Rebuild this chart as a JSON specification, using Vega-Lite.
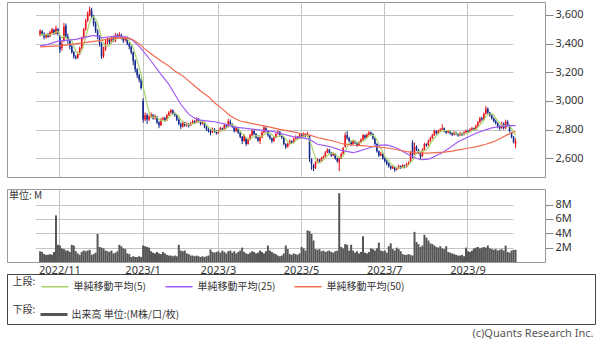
{
"$schema":"https://vega.github.io/schema/vega-lite/v6.json",
"padding":{"left":6,"top":1,"right":0,"bottom":0},
"background":"white",
"title":{"text":"(c)Quants Research Inc.","orient":"bottom","anchor":"end","fontSize":11,"fontWeight":"normal","color":"#555","font":"Noto Sans","offset":3,"dx":-2},
"datasets":{
"px":[
{"d":"2022-10-18","o":3460,"h":3500,"l":3450,"c":3490,"v":1.5,"m":3460},
{"d":"2022-10-19","o":3485,"h":3495,"l":3455,"c":3470,"v":1.4,"m":3465},
{"d":"2022-10-20","o":3470,"h":3480,"l":3430,"c":3445,"v":1.1,"m":3460},
{"d":"2022-10-21","o":3445,"h":3470,"l":3435,"c":3460,"v":1.0,"m":3463},
{"d":"2022-10-24","o":3460,"h":3475,"l":3440,"c":3450,"v":1.0,"m":3463},
{"d":"2022-10-25","o":3450,"h":3490,"l":3445,"c":3480,"v":1.1,"m":3461},
{"d":"2022-10-26","o":3475,"h":3510,"l":3465,"c":3500,"v":1.0,"m":3467},
{"d":"2022-10-27","o":3495,"h":3505,"l":3460,"c":3470,"v":1.4,"m":3472},
{"d":"2022-10-28","o":3470,"h":3525,"l":3465,"c":3505,"v":6.5,"m":3481},
{"d":"2022-10-31","o":3500,"h":3510,"l":3455,"c":3470,"v":2.4,"m":3485},
{"d":"2022-11-01","o":3450,"h":3460,"l":3335,"c":3360,"v":2.3,"m":3461},
{"d":"2022-11-02","o":3370,"h":3420,"l":3350,"c":3400,"v":1.9,"m":3441},
{"d":"2022-11-04","o":3420,"h":3545,"l":3410,"c":3520,"v":1.8,"m":3451},
{"d":"2022-11-07","o":3525,"h":3540,"l":3440,"c":3450,"v":1.6,"m":3440},
{"d":"2022-11-08","o":3450,"h":3470,"l":3400,"c":3420,"v":1.6,"m":3430},
{"d":"2022-11-09","o":3420,"h":3430,"l":3360,"c":3380,"v":1.4,"m":3434},
{"d":"2022-11-10","o":3380,"h":3390,"l":3330,"c":3340,"v":2.4,"m":3422},
{"d":"2022-11-11","o":3340,"h":3350,"l":3295,"c":3310,"v":2.3,"m":3380},
{"d":"2022-11-14","o":3310,"h":3320,"l":3290,"c":3300,"v":1.5,"m":3350},
{"d":"2022-11-15","o":3300,"h":3345,"l":3295,"c":3330,"v":1.2,"m":3332},
{"d":"2022-11-16","o":3330,"h":3380,"l":3320,"c":3370,"v":1.0,"m":3330},
{"d":"2022-11-17","o":3370,"h":3450,"l":3360,"c":3440,"v":1.4,"m":3350},
{"d":"2022-11-18","o":3440,"h":3510,"l":3430,"c":3500,"v":1.6,"m":3388},
{"d":"2022-11-21","o":3500,"h":3575,"l":3490,"c":3560,"v":1.5,"m":3440},
{"d":"2022-11-22","o":3560,"h":3625,"l":3550,"c":3610,"v":1.6,"m":3496},
{"d":"2022-11-24","o":3600,"h":3657,"l":3590,"c":3640,"v":1.7,"m":3550},
{"d":"2022-11-25","o":3630,"h":3650,"l":3575,"c":3590,"v":1.0,"m":3580},
{"d":"2022-11-28","o":3590,"h":3600,"l":3520,"c":3540,"v":1.1,"m":3588},
{"d":"2022-11-29","o":3540,"h":3555,"l":3475,"c":3490,"v":1.3,"m":3574},
{"d":"2022-11-30","o":3490,"h":3500,"l":3430,"c":3450,"v":3.9,"m":3542},
{"d":"2022-12-01","o":3450,"h":3460,"l":3380,"c":3400,"v":2.1,"m":3494},
{"d":"2022-12-02","o":3400,"h":3410,"l":3293,"c":3310,"v":2.0,"m":3438},
{"d":"2022-12-05","o":3310,"h":3380,"l":3300,"c":3360,"v":1.9,"m":3402},
{"d":"2022-12-06","o":3360,"h":3430,"l":3350,"c":3410,"v":1.6,"m":3386},
{"d":"2022-12-07","o":3410,"h":3445,"l":3395,"c":3430,"v":1.5,"m":3382},
{"d":"2022-12-08","o":3430,"h":3440,"l":3395,"c":3410,"v":1.4,"m":3384},
{"d":"2022-12-09","o":3410,"h":3450,"l":3400,"c":3440,"v":1.6,"m":3410},
{"d":"2022-12-12","o":3440,"h":3455,"l":3410,"c":3420,"v":1.2,"m":3422},
{"d":"2022-12-13","o":3420,"h":3475,"l":3410,"c":3460,"v":1.3,"m":3432},
{"d":"2022-12-14","o":3460,"h":3470,"l":3435,"c":3450,"v":1.5,"m":3436},
{"d":"2022-12-15","o":3450,"h":3480,"l":3440,"c":3465,"v":2.4,"m":3447},
{"d":"2022-12-16","o":3460,"h":3470,"l":3430,"c":3440,"v":2.2,"m":3447},
{"d":"2022-12-19","o":3440,"h":3450,"l":3405,"c":3420,"v":1.9,"m":3447},
{"d":"2022-12-20","o":3425,"h":3455,"l":3415,"c":3445,"v":1.8,"m":3444},
{"d":"2022-12-21","o":3440,"h":3450,"l":3390,"c":3400,"v":1.2,"m":3434},
{"d":"2022-12-22","o":3400,"h":3410,"l":3360,"c":3380,"v":1.1,"m":3417},
{"d":"2022-12-23","o":3380,"h":3390,"l":3325,"c":3340,"v":0.7,"m":3397},
{"d":"2022-12-26","o":3340,"h":3345,"l":3250,"c":3280,"v":0.8,"m":3369},
{"d":"2022-12-27","o":3280,"h":3290,"l":3200,"c":3220,"v":0.7,"m":3324},
{"d":"2022-12-28","o":3220,"h":3230,"l":3160,"c":3180,"v":0.7,"m":3280},
{"d":"2022-12-29","o":3180,"h":3190,"l":3130,"c":3150,"v":0.8,"m":3234},
{"d":"2022-12-30","o":3150,"h":3160,"l":3080,"c":3090,"v":0.7,"m":3184},
{"d":"2023-01-04","o":3000,"h":3020,"l":2850,"c":2870,"v":2.3,"m":3102},
{"d":"2023-01-05","o":2870,"h":2920,"l":2860,"c":2900,"v":2.2,"m":3038},
{"d":"2023-01-06","o":2900,"h":2915,"l":2840,"c":2870,"v":2.1,"m":2976},
{"d":"2023-01-10","o":2870,"h":2905,"l":2860,"c":2890,"v":2.0,"m":2924},
{"d":"2023-01-11","o":2890,"h":2920,"l":2880,"c":2905,"v":1.5,"m":2887},
{"d":"2023-01-12","o":2900,"h":2910,"l":2870,"c":2880,"v":1.3,"m":2889},
{"d":"2023-01-13","o":2880,"h":2905,"l":2870,"c":2895,"v":1.2,"m":2888},
{"d":"2023-01-16","o":2890,"h":2895,"l":2840,"c":2850,"v":1.4,"m":2884},
{"d":"2023-01-17","o":2850,"h":2860,"l":2810,"c":2830,"v":1.2,"m":2872},
{"d":"2023-01-18","o":2830,"h":2880,"l":2825,"c":2870,"v":1.1,"m":2865},
{"d":"2023-01-19","o":2870,"h":2890,"l":2860,"c":2880,"v":1.4,"m":2865},
{"d":"2023-01-20","o":2880,"h":2890,"l":2855,"c":2865,"v":1.2,"m":2859},
{"d":"2023-01-23","o":2865,"h":2910,"l":2860,"c":2900,"v":1.0,"m":2869},
{"d":"2023-01-24","o":2900,"h":2930,"l":2895,"c":2920,"v":0.9,"m":2887},
{"d":"2023-01-25","o":2920,"h":2945,"l":2910,"c":2935,"v":0.9,"m":2900},
{"d":"2023-01-26","o":2935,"h":2940,"l":2905,"c":2915,"v":0.8,"m":2907},
{"d":"2023-01-27","o":2915,"h":2920,"l":2890,"c":2900,"v":0.9,"m":2914},
{"d":"2023-01-30","o":2900,"h":2905,"l":2860,"c":2870,"v":0.8,"m":2908},
{"d":"2023-01-31","o":2870,"h":2880,"l":2830,"c":2840,"v":2.4,"m":2892},
{"d":"2023-02-01","o":2840,"h":2850,"l":2805,"c":2820,"v":1.6,"m":2869},
{"d":"2023-02-02","o":2820,"h":2860,"l":2815,"c":2850,"v":1.5,"m":2856},
{"d":"2023-02-03","o":2850,"h":2855,"l":2820,"c":2830,"v":1.6,"m":2842},
{"d":"2023-02-06","o":2830,"h":2850,"l":2820,"c":2840,"v":1.2,"m":2836},
{"d":"2023-02-07","o":2840,"h":2845,"l":2815,"c":2825,"v":1.1,"m":2833},
{"d":"2023-02-08","o":2830,"h":2855,"l":2825,"c":2845,"v":0.9,"m":2838},
{"d":"2023-02-09","o":2845,"h":2870,"l":2840,"c":2860,"v":0.9,"m":2840},
{"d":"2023-02-10","o":2860,"h":2865,"l":2840,"c":2850,"v":0.8,"m":2844},
{"d":"2023-02-13","o":2850,"h":2885,"l":2845,"c":2875,"v":0.9,"m":2851},
{"d":"2023-02-14","o":2875,"h":2880,"l":2850,"c":2860,"v":0.8,"m":2858},
{"d":"2023-02-15","o":2860,"h":2865,"l":2830,"c":2840,"v":0.7,"m":2857},
{"d":"2023-02-16","o":2840,"h":2860,"l":2835,"c":2850,"v":0.8,"m":2855},
{"d":"2023-02-17","o":2850,"h":2855,"l":2810,"c":2820,"v":0.7,"m":2849},
{"d":"2023-02-20","o":2820,"h":2825,"l":2790,"c":2800,"v":0.8,"m":2834},
{"d":"2023-02-21","o":2800,"h":2810,"l":2780,"c":2790,"v":0.9,"m":2820},
{"d":"2023-02-22","o":2790,"h":2800,"l":2760,"c":2780,"v":1.75,"m":2808},
{"d":"2023-02-24","o":2780,"h":2815,"l":2775,"c":2800,"v":1.4,"m":2798},
{"d":"2023-02-27","o":2800,"h":2810,"l":2780,"c":2790,"v":1.3,"m":2792},
{"d":"2023-02-28","o":2790,"h":2795,"l":2765,"c":2775,"v":1.4,"m":2787},
{"d":"2023-03-01","o":2775,"h":2800,"l":2770,"c":2790,"v":1.5,"m":2787},
{"d":"2023-03-02","o":2790,"h":2820,"l":2785,"c":2810,"v":1.3,"m":2793},
{"d":"2023-03-03","o":2810,"h":2815,"l":2790,"c":2800,"v":1.6,"m":2793},
{"d":"2023-03-06","o":2800,"h":2840,"l":2795,"c":2830,"v":1.4,"m":2801},
{"d":"2023-03-07","o":2830,"h":2835,"l":2810,"c":2820,"v":1.2,"m":2810},
{"d":"2023-03-08","o":2820,"h":2875,"l":2815,"c":2860,"v":1.5,"m":2824},
{"d":"2023-03-09","o":2855,"h":2870,"l":2830,"c":2840,"v":1.6,"m":2830},
{"d":"2023-03-10","o":2840,"h":2845,"l":2810,"c":2820,"v":1.3,"m":2834},
{"d":"2023-03-13","o":2820,"h":2825,"l":2780,"c":2790,"v":1.5,"m":2826},
{"d":"2023-03-14","o":2790,"h":2820,"l":2785,"c":2810,"v":1.2,"m":2824},
{"d":"2023-03-15","o":2810,"h":2815,"l":2770,"c":2780,"v":1.4,"m":2808},
{"d":"2023-03-16","o":2780,"h":2785,"l":2740,"c":2750,"v":1.6,"m":2790},
{"d":"2023-03-17","o":2750,"h":2755,"l":2700,"c":2720,"v":2.0,"m":2770},
{"d":"2023-03-20","o":2720,"h":2770,"l":2715,"c":2760,"v":1.4,"m":2764},
{"d":"2023-03-22","o":2740,"h":2745,"l":2685,"c":2700,"v":1.2,"m":2742},
{"d":"2023-03-23","o":2700,"h":2740,"l":2695,"c":2730,"v":1.1,"m":2732},
{"d":"2023-03-24","o":2730,"h":2770,"l":2725,"c":2760,"v":1.3,"m":2734},
{"d":"2023-03-27","o":2760,"h":2805,"l":2755,"c":2790,"v":1.5,"m":2748},
{"d":"2023-03-28","o":2790,"h":2795,"l":2760,"c":2770,"v":1.4,"m":2750},
{"d":"2023-03-29","o":2770,"h":2775,"l":2735,"c":2745,"v":1.2,"m":2759},
{"d":"2023-03-30","o":2745,"h":2750,"l":2715,"c":2725,"v":1.3,"m":2758},
{"d":"2023-03-31","o":2720,"h":2755,"l":2700,"c":2745,"v":1.6,"m":2755},
{"d":"2023-04-03","o":2745,"h":2790,"l":2740,"c":2780,"v":1.4,"m":2753},
{"d":"2023-04-04","o":2780,"h":2830,"l":2775,"c":2815,"v":1.2,"m":2762},
{"d":"2023-04-05","o":2810,"h":2820,"l":2780,"c":2790,"v":1.5,"m":2771},
{"d":"2023-04-06","o":2790,"h":2795,"l":2750,"c":2760,"v":2.3,"m":2778},
{"d":"2023-04-07","o":2760,"h":2765,"l":2730,"c":2740,"v":1.6,"m":2777},
{"d":"2023-04-10","o":2740,"h":2745,"l":2705,"c":2720,"v":1.4,"m":2765},
{"d":"2023-04-11","o":2720,"h":2755,"l":2715,"c":2745,"v":1.2,"m":2751},
{"d":"2023-04-12","o":2745,"h":2780,"l":2740,"c":2770,"v":1.1,"m":2747},
{"d":"2023-04-13","o":2770,"h":2795,"l":2765,"c":2785,"v":0.9,"m":2752},
{"d":"2023-04-14","o":2785,"h":2790,"l":2750,"c":2760,"v":0.8,"m":2756},
{"d":"2023-04-17","o":2760,"h":2765,"l":2735,"c":2745,"v":0.9,"m":2761},
{"d":"2023-04-18","o":2745,"h":2750,"l":2690,"c":2700,"v":1.2,"m":2752},
{"d":"2023-04-19","o":2700,"h":2705,"l":2665,"c":2680,"v":2.3,"m":2734},
{"d":"2023-04-20","o":2680,"h":2710,"l":2675,"c":2700,"v":1.8,"m":2717},
{"d":"2023-04-21","o":2700,"h":2730,"l":2695,"c":2720,"v":1.1,"m":2709},
{"d":"2023-04-24","o":2720,"h":2725,"l":2700,"c":2710,"v":1.0,"m":2702},
{"d":"2023-04-25","o":2710,"h":2745,"l":2705,"c":2735,"v":1.2,"m":2709},
{"d":"2023-04-26","o":2735,"h":2760,"l":2730,"c":2750,"v":1.1,"m":2723},
{"d":"2023-04-27","o":2750,"h":2755,"l":2730,"c":2740,"v":1.0,"m":2731},
{"d":"2023-04-28","o":2740,"h":2775,"l":2735,"c":2765,"v":1.2,"m":2740},
{"d":"2023-05-01","o":2765,"h":2770,"l":2740,"c":2750,"v":2.1,"m":2748},
{"d":"2023-05-02","o":2750,"h":2780,"l":2745,"c":2770,"v":1.9,"m":2755},
{"d":"2023-05-08","o":2770,"h":2775,"l":2745,"c":2755,"v":1.6,"m":2756},
{"d":"2023-05-09","o":2755,"h":2785,"l":2750,"c":2770,"v":4.4,"m":2762},
{"d":"2023-05-10","o":2755,"h":2760,"l":2575,"c":2600,"v":4.3,"m":2729},
{"d":"2023-05-11","o":2595,"h":2600,"l":2520,"c":2560,"v":3.9,"m":2691},
{"d":"2023-05-12","o":2550,"h":2560,"l":2510,"c":2530,"v":3.0,"m":2643},
{"d":"2023-05-15","o":2530,"h":2580,"l":2525,"c":2570,"v":1.8,"m":2606},
{"d":"2023-05-16","o":2570,"h":2600,"l":2565,"c":2590,"v":1.7,"m":2570},
{"d":"2023-05-17","o":2590,"h":2595,"l":2570,"c":2580,"v":1.8,"m":2566},
{"d":"2023-05-18","o":2580,"h":2610,"l":2575,"c":2600,"v":1.5,"m":2574},
{"d":"2023-05-19","o":2600,"h":2620,"l":2595,"c":2610,"v":1.6,"m":2590},
{"d":"2023-05-22","o":2610,"h":2650,"l":2605,"c":2640,"v":1.4,"m":2604},
{"d":"2023-05-23","o":2640,"h":2670,"l":2635,"c":2660,"v":1.5,"m":2618},
{"d":"2023-05-24","o":2660,"h":2665,"l":2630,"c":2640,"v":1.6,"m":2630},
{"d":"2023-05-25","o":2640,"h":2645,"l":2610,"c":2620,"v":1.4,"m":2634},
{"d":"2023-05-26","o":2620,"h":2640,"l":2615,"c":2630,"v":1.3,"m":2638},
{"d":"2023-05-29","o":2630,"h":2635,"l":2590,"c":2600,"v":1.5,"m":2630},
{"d":"2023-05-30","o":2600,"h":2605,"l":2570,"c":2580,"v":1.6,"m":2614},
{"d":"2023-05-31","o":2570,"h":2610,"l":2510,"c":2600,"v":9.6,"m":2606},
{"d":"2023-06-01","o":2600,"h":2640,"l":2595,"c":2630,"v":2.1,"m":2608},
{"d":"2023-06-02","o":2630,"h":2680,"l":2625,"c":2670,"v":1.9,"m":2616},
{"d":"2023-06-05","o":2680,"h":2780,"l":2675,"c":2760,"v":2.5,"m":2648},
{"d":"2023-06-06","o":2760,"h":2790,"l":2730,"c":2740,"v":2.4,"m":2680},
{"d":"2023-06-07","o":2740,"h":2750,"l":2710,"c":2720,"v":1.6,"m":2704},
{"d":"2023-06-08","o":2720,"h":2725,"l":2685,"c":2700,"v":2.4,"m":2718},
{"d":"2023-06-09","o":2700,"h":2730,"l":2695,"c":2720,"v":1.6,"m":2728},
{"d":"2023-06-12","o":2720,"h":2725,"l":2700,"c":2710,"v":1.3,"m":2718},
{"d":"2023-06-13","o":2710,"h":2715,"l":2680,"c":2690,"v":1.5,"m":2708},
{"d":"2023-06-14","o":2690,"h":2720,"l":2685,"c":2710,"v":1.2,"m":2706},
{"d":"2023-06-15","o":2710,"h":2740,"l":2705,"c":2730,"v":1.4,"m":2712},
{"d":"2023-06-16","o":2730,"h":2770,"l":2725,"c":2760,"v":3.6,"m":2720},
{"d":"2023-06-19","o":2760,"h":2765,"l":2735,"c":2745,"v":1.3,"m":2727},
{"d":"2023-06-20","o":2745,"h":2775,"l":2740,"c":2765,"v":1.2,"m":2742},
{"d":"2023-06-21","o":2765,"h":2790,"l":2760,"c":2780,"v":1.4,"m":2756},
{"d":"2023-06-22","o":2780,"h":2785,"l":2760,"c":2770,"v":1.9,"m":2764},
{"d":"2023-06-23","o":2770,"h":2775,"l":2730,"c":2740,"v":1.8,"m":2760},
{"d":"2023-06-26","o":2740,"h":2745,"l":2690,"c":2700,"v":1.6,"m":2751},
{"d":"2023-06-27","o":2700,"h":2705,"l":2640,"c":2650,"v":1.9,"m":2728},
{"d":"2023-06-28","o":2650,"h":2655,"l":2610,"c":2620,"v":2.7,"m":2696},
{"d":"2023-06-29","o":2620,"h":2645,"l":2615,"c":2630,"v":1.6,"m":2668},
{"d":"2023-06-30","o":2630,"h":2635,"l":2590,"c":2600,"v":1.5,"m":2640},
{"d":"2023-07-03","o":2600,"h":2605,"l":2570,"c":2580,"v":1.6,"m":2616},
{"d":"2023-07-04","o":2580,"h":2590,"l":2550,"c":2560,"v":1.3,"m":2598},
{"d":"2023-07-05","o":2565,"h":2570,"l":2535,"c":2545,"v":2.2,"m":2583},
{"d":"2023-07-06","o":2545,"h":2550,"l":2520,"c":2530,"v":2.6,"m":2563},
{"d":"2023-07-07","o":2530,"h":2550,"l":2525,"c":2540,"v":1.8,"m":2551},
{"d":"2023-07-10","o":2540,"h":2545,"l":2505,"c":2520,"v":1.6,"m":2539},
{"d":"2023-07-11","o":2520,"h":2540,"l":2515,"c":2530,"v":2.0,"m":2533},
{"d":"2023-07-12","o":2530,"h":2555,"l":2525,"c":2545,"v":1.8,"m":2533},
{"d":"2023-07-13","o":2545,"h":2550,"l":2525,"c":2535,"v":1.5,"m":2534},
{"d":"2023-07-14","o":2535,"h":2560,"l":2530,"c":2550,"v":1.1,"m":2536},
{"d":"2023-07-18","o":2550,"h":2555,"l":2530,"c":2540,"v":1.0,"m":2540},
{"d":"2023-07-19","o":2540,"h":2570,"l":2535,"c":2560,"v":1.0,"m":2546},
{"d":"2023-07-20","o":2560,"h":2580,"l":2555,"c":2570,"v":1.1,"m":2551},
{"d":"2023-07-21","o":2575,"h":2650,"l":2570,"c":2640,"v":1.0,"m":2572},
{"d":"2023-07-24","o":2710,"h":2725,"l":2600,"c":2620,"v":0.9,"m":2586},
{"d":"2023-07-25","o":2630,"h":2710,"l":2625,"c":2680,"v":4.2,"m":2614},
{"d":"2023-07-26","o":2680,"h":2690,"l":2650,"c":2660,"v":2.8,"m":2634},
{"d":"2023-07-27","o":2660,"h":2665,"l":2630,"c":2640,"v":2.5,"m":2648},
{"d":"2023-07-28","o":2640,"h":2645,"l":2595,"c":2610,"v":2.1,"m":2642},
{"d":"2023-07-31","o":2615,"h":2670,"l":2610,"c":2660,"v":2.3,"m":2650},
{"d":"2023-08-01","o":2660,"h":2710,"l":2655,"c":2700,"v":3.8,"m":2654},
{"d":"2023-08-02","o":2700,"h":2705,"l":2680,"c":2690,"v":3.4,"m":2660},
{"d":"2023-08-03","o":2690,"h":2730,"l":2685,"c":2720,"v":3.0,"m":2676},
{"d":"2023-08-04","o":2720,"h":2750,"l":2715,"c":2740,"v":2.6,"m":2702},
{"d":"2023-08-07","o":2740,"h":2770,"l":2735,"c":2760,"v":2.5,"m":2722},
{"d":"2023-08-08","o":2760,"h":2800,"l":2755,"c":2790,"v":2.3,"m":2740},
{"d":"2023-08-09","o":2790,"h":2795,"l":2765,"c":2775,"v":2.1,"m":2757},
{"d":"2023-08-10","o":2775,"h":2800,"l":2770,"c":2790,"v":2.0,"m":2771},
{"d":"2023-08-14","o":2790,"h":2810,"l":2785,"c":2800,"v":2.2,"m":2783},
{"d":"2023-08-15","o":2800,"h":2838,"l":2795,"c":2810,"v":1.9,"m":2793},
{"d":"2023-08-16","o":2810,"h":2815,"l":2780,"c":2790,"v":1.8,"m":2793},
{"d":"2023-08-17","o":2790,"h":2795,"l":2770,"c":2780,"v":2.2,"m":2794},
{"d":"2023-08-18","o":2780,"h":2800,"l":2775,"c":2790,"v":1.4,"m":2794},
{"d":"2023-08-21","o":2790,"h":2795,"l":2765,"c":2775,"v":1.3,"m":2789},
{"d":"2023-08-22","o":2775,"h":2780,"l":2755,"c":2765,"v":1.2,"m":2780},
{"d":"2023-08-23","o":2765,"h":2790,"l":2760,"c":2780,"v":1.1,"m":2778},
{"d":"2023-08-24","o":2780,"h":2785,"l":2760,"c":2770,"v":1.0,"m":2776},
{"d":"2023-08-25","o":2770,"h":2775,"l":2750,"c":2760,"v":0.9,"m":2770},
{"d":"2023-08-28","o":2760,"h":2785,"l":2755,"c":2775,"v":0.9,"m":2770},
{"d":"2023-08-29","o":2775,"h":2780,"l":2755,"c":2765,"v":1.0,"m":2770},
{"d":"2023-08-30","o":2765,"h":2790,"l":2760,"c":2780,"v":0.8,"m":2770},
{"d":"2023-08-31","o":2780,"h":2800,"l":2775,"c":2790,"v":2.0,"m":2774},
{"d":"2023-09-01","o":2790,"h":2800,"l":2775,"c":2785,"v":1.5,"m":2779},
{"d":"2023-09-04","o":2785,"h":2810,"l":2780,"c":2800,"v":1.4,"m":2784},
{"d":"2023-09-05","o":2800,"h":2820,"l":2795,"c":2810,"v":1.6,"m":2793},
{"d":"2023-09-06","o":2810,"h":2815,"l":2790,"c":2800,"v":1.9,"m":2797},
{"d":"2023-09-07","o":2800,"h":2835,"l":2795,"c":2825,"v":2.0,"m":2804},
{"d":"2023-09-08","o":2825,"h":2860,"l":2820,"c":2850,"v":2.1,"m":2817},
{"d":"2023-09-11","o":2850,"h":2890,"l":2845,"c":2880,"v":1.9,"m":2833},
{"d":"2023-09-12","o":2880,"h":2890,"l":2860,"c":2870,"v":2.0,"m":2845},
{"d":"2023-09-13","o":2870,"h":2920,"l":2865,"c":2910,"v":2.1,"m":2867},
{"d":"2023-09-14","o":2910,"h":2965,"l":2905,"c":2945,"v":2.0,"m":2891},
{"d":"2023-09-15","o":2945,"h":2955,"l":2910,"c":2920,"v":2.3,"m":2905},
{"d":"2023-09-19","o":2920,"h":2925,"l":2890,"c":2900,"v":1.9,"m":2909},
{"d":"2023-09-20","o":2900,"h":2905,"l":2870,"c":2880,"v":1.8,"m":2911},
{"d":"2023-09-21","o":2880,"h":2885,"l":2850,"c":2860,"v":1.7,"m":2901},
{"d":"2023-09-22","o":2860,"h":2870,"l":2835,"c":2845,"v":1.8,"m":2881},
{"d":"2023-09-25","o":2845,"h":2850,"l":2810,"c":2820,"v":1.6,"m":2861},
{"d":"2023-09-26","o":2820,"h":2830,"l":2795,"c":2810,"v":1.7,"m":2843},
{"d":"2023-09-27","o":2810,"h":2855,"l":2805,"c":2840,"v":1.8,"m":2835},
{"d":"2023-09-28","o":2840,"h":2850,"l":2800,"c":2810,"v":1.6,"m":2825},
{"d":"2023-09-29","o":2810,"h":2870,"l":2805,"c":2855,"v":2.3,"m":2827},
{"d":"2023-10-02","o":2855,"h":2865,"l":2820,"c":2830,"v":1.4,"m":2829},
{"d":"2023-10-03","o":2830,"h":2835,"l":2780,"c":2790,"v":1.3,"m":2825},
{"d":"2023-10-04","o":2780,"h":2785,"l":2740,"c":2750,"v":1.6,"m":2807},
{"d":"2023-10-05","o":2750,"h":2755,"l":2705,"c":2715,"v":1.7,"m":2788},
{"d":"2023-10-06","o":2700,"h":2740,"l":2670,"c":2720,"v":1.7,"m":2761}
],
"ma":[
{"d":"2022-10-18","s":"25","p":3384},{"d":"2022-10-24","s":"25","p":3395},{"d":"2022-10-31","s":"25","p":3418},{"d":"2022-11-08","s":"25","p":3425},{"d":"2022-11-14","s":"25","p":3430},{"d":"2022-11-21","s":"25","p":3445},{"d":"2022-11-28","s":"25","p":3458},{"d":"2022-12-02","s":"25","p":3441},{"d":"2022-12-08","s":"25","p":3448},{"d":"2022-12-14","s":"25","p":3453},{"d":"2022-12-20","s":"25","p":3445},{"d":"2022-12-23","s":"25","p":3430},{"d":"2022-12-28","s":"25","p":3395},{"d":"2023-01-04","s":"25","p":3349},{"d":"2023-01-11","s":"25","p":3279},{"d":"2023-01-18","s":"25","p":3186},{"d":"2023-01-24","s":"25","p":3116},{"d":"2023-01-27","s":"25","p":3047},{"d":"2023-02-01","s":"25","p":2977},{"d":"2023-02-07","s":"25","p":2908},{"d":"2023-02-10","s":"25","p":2880},{"d":"2023-02-15","s":"25","p":2867},{"d":"2023-02-21","s":"25","p":2860},{"d":"2023-02-27","s":"25","p":2855},{"d":"2023-03-06","s":"25","p":2840},{"d":"2023-03-13","s":"25","p":2818},{"d":"2023-03-20","s":"25","p":2810},{"d":"2023-03-28","s":"25","p":2802},{"d":"2023-04-04","s":"25","p":2795},{"d":"2023-04-11","s":"25","p":2786},{"d":"2023-04-18","s":"25","p":2768},{"d":"2023-04-25","s":"25","p":2749},{"d":"2023-05-01","s":"25","p":2744},{"d":"2023-05-10","s":"25","p":2732},{"d":"2023-05-16","s":"25","p":2698},{"d":"2023-05-22","s":"25","p":2688},{"d":"2023-05-25","s":"25","p":2679},{"d":"2023-06-01","s":"25","p":2655},{"d":"2023-06-09","s":"25","p":2639},{"d":"2023-06-14","s":"25","p":2650},{"d":"2023-06-19","s":"25","p":2663},{"d":"2023-06-26","s":"25","p":2686},{"d":"2023-06-29","s":"25","p":2692},{"d":"2023-07-04","s":"25","p":2693},{"d":"2023-07-07","s":"25","p":2682},{"d":"2023-07-12","s":"25","p":2665},{"d":"2023-07-18","s":"25","p":2640},{"d":"2023-07-21","s":"25","p":2618},{"d":"2023-07-26","s":"25","p":2600},{"d":"2023-07-28","s":"25","p":2590},{"d":"2023-08-02","s":"25","p":2592},{"d":"2023-08-04","s":"25","p":2598},{"d":"2023-08-09","s":"25","p":2620},{"d":"2023-08-15","s":"25","p":2639},{"d":"2023-08-21","s":"25","p":2675},{"d":"2023-08-25","s":"25","p":2715},{"d":"2023-08-31","s":"25","p":2742},{"d":"2023-09-07","s":"25","p":2775},{"d":"2023-09-13","s":"25","p":2795},{"d":"2023-09-20","s":"25","p":2812},{"d":"2023-09-26","s":"25","p":2822},{"d":"2023-10-02","s":"25","p":2828},{"d":"2023-10-06","s":"25","p":2828},
{"d":"2022-10-18","s":"50","p":3377},{"d":"2022-11-01","s":"50","p":3385},{"d":"2022-11-18","s":"50","p":3407},{"d":"2022-12-02","s":"50","p":3423},{"d":"2022-12-09","s":"50","p":3438},{"d":"2022-12-16","s":"50","p":3441},{"d":"2022-12-22","s":"50","p":3438},{"d":"2022-12-26","s":"50","p":3425},{"d":"2022-12-29","s":"50","p":3400},{"d":"2023-01-04","s":"50","p":3372},{"d":"2023-01-11","s":"50","p":3330},{"d":"2023-01-18","s":"50","p":3279},{"d":"2023-01-24","s":"50","p":3245},{"d":"2023-01-27","s":"50","p":3209},{"d":"2023-02-02","s":"50","p":3175},{"d":"2023-02-07","s":"50","p":3140},{"d":"2023-02-10","s":"50","p":3105},{"d":"2023-02-15","s":"50","p":3070},{"d":"2023-02-21","s":"50","p":3030},{"d":"2023-02-27","s":"50","p":2988},{"d":"2023-03-03","s":"50","p":2945},{"d":"2023-03-08","s":"50","p":2908},{"d":"2023-03-13","s":"50","p":2880},{"d":"2023-03-16","s":"50","p":2860},{"d":"2023-03-24","s":"50","p":2845},{"d":"2023-03-31","s":"50","p":2832},{"d":"2023-04-07","s":"50","p":2818},{"d":"2023-04-14","s":"50","p":2802},{"d":"2023-04-21","s":"50","p":2790},{"d":"2023-04-28","s":"50","p":2775},{"d":"2023-05-09","s":"50","p":2767},{"d":"2023-05-16","s":"50","p":2745},{"d":"2023-05-22","s":"50","p":2732},{"d":"2023-05-26","s":"50","p":2721},{"d":"2023-06-02","s":"50","p":2700},{"d":"2023-06-09","s":"50","p":2692},{"d":"2023-06-16","s":"50","p":2688},{"d":"2023-06-21","s":"50","p":2684},{"d":"2023-06-28","s":"50","p":2678},{"d":"2023-07-05","s":"50","p":2670},{"d":"2023-07-12","s":"50","p":2658},{"d":"2023-07-19","s":"50","p":2646},{"d":"2023-07-27","s":"50","p":2637},{"d":"2023-08-03","s":"50","p":2636},{"d":"2023-08-09","s":"50","p":2639},{"d":"2023-08-16","s":"50","p":2643},{"d":"2023-08-22","s":"50","p":2650},{"d":"2023-08-28","s":"50","p":2660},{"d":"2023-09-01","s":"50","p":2670},{"d":"2023-09-08","s":"50","p":2683},{"d":"2023-09-14","s":"50","p":2698},{"d":"2023-09-21","s":"50","p":2716},{"d":"2023-09-26","s":"50","p":2736},{"d":"2023-10-02","s":"50","p":2765},{"d":"2023-10-06","s":"50","p":2790}
]
},
"vconcat":[
{"width":538,"height":175,
"data":{"name":"px"},
"encoding":{"x":{"field":"d","type":"ordinal","scale":{"paddingInner":0,"paddingOuter":0,"range":[32.13,509.53],"round":false},
"axis":{"values":["2022-11-01","2023-01-04","2023-03-01","2023-05-01","2023-07-03","2023-09-01"],"grid":true,"gridColor":"#c4c4c4","labels":false,"ticks":false,"domain":false,"title":null}}},
"layer":[
{"mark":{"type":"rule","strokeWidth":1},
"encoding":{"y":{"field":"l","type":"quantitative","scale":{"domain":[2469.5,3690.7],"nice":false,"zero":false},"axis":{"orient":"right","values":[2600,2800,3000,3200,3400,3600],"labelExpr":"format(datum.value, ',')","grid":true,"gridColor":"#c4c4c4","domain":false,"tickSize":8,"tickColor":"#888","labelFontSize":11,"labelColor":"#333","labelPadding":2,"title":null}},
"y2":{"field":"h"},
"color":{"condition":{"test":"datum.c >= datum.o","value":"#e8141c"},"value":"#13298c"}}},
{"mark":{"type":"bar","width":{"band":0.8}},
"encoding":{"y":{"field":"o","type":"quantitative","scale":{"domain":[2469.5,3690.7],"nice":false,"zero":false},"axis":{"orient":"right","values":[2600,2800,3000,3200,3400,3600],"labelExpr":"format(datum.value, ',')","grid":true,"gridColor":"#c4c4c4","domain":false,"tickSize":8,"tickColor":"#888","labelFontSize":11,"labelColor":"#333","labelPadding":2,"title":null}},
"y2":{"field":"c"},
"color":{"condition":{"test":"datum.c >= datum.o","value":"#e8141c"},"value":"#13298c"}}},
{"mark":{"type":"line","strokeWidth":1.2},
"encoding":{"y":{"field":"m","type":"quantitative","scale":{"domain":[2469.5,3690.7],"nice":false,"zero":false},"axis":{"orient":"right","values":[2600,2800,3000,3200,3400,3600],"labelExpr":"format(datum.value, ',')","grid":true,"gridColor":"#c4c4c4","domain":false,"tickSize":8,"tickColor":"#888","labelFontSize":11,"labelColor":"#333","labelPadding":2,"title":null}},
"stroke":{"datum":"5","type":"nominal","scale":{"domain":["5","25","50"],"range":["#a8d46a","#a05cf2","#f26a4f"]}}}},
{"data":{"name":"ma"},
"mark":{"type":"line","strokeWidth":1.2},
"encoding":{"y":{"field":"p","type":"quantitative","scale":{"domain":[2469.5,3690.7],"nice":false,"zero":false},"axis":{"orient":"right","values":[2600,2800,3000,3200,3400,3600],"labelExpr":"format(datum.value, ',')","grid":true,"gridColor":"#c4c4c4","domain":false,"tickSize":8,"tickColor":"#888","labelFontSize":11,"labelColor":"#333","labelPadding":2,"title":null}},
"stroke":{"field":"s","type":"nominal","scale":{"domain":["5","25","50"],"range":["#a8d46a","#a05cf2","#f26a4f"]},
"legend":{"title":"上段:","orient":"none","legendX":5.5,"legendY":270,"direction":"horizontal","titleOrient":"left","titleAnchor":"middle","titleBaseline":"middle","symbolType":"stroke","symbolSize":729,"symbolStrokeWidth":1.5,"labelExpr":"'単純移動平均(' + datum.label + ')'","labelFontSize":10,"labelFont":"Noto Sans CJK JP","labelColor":"#333","titleFont":"Noto Sans CJK JP","titleFontSize":10,"titleFontWeight":"normal","titleColor":"#333","columnPadding":16,"labelOffset":4,"titlePadding":5,"padding":0}}}}
]},
{"width":538,"height":73,
"data":{"name":"px"},
"title":{"text":"単位: M","anchor":"start","orient":"top","offset":-12,"dx":2,"fontSize":10,"fontWeight":"normal","font":"Noto Sans CJK JP","color":"#333"},
"mark":{"type":"bar","width":{"band":1}},
"encoding":{
"x":{"field":"d","type":"ordinal","scale":{"paddingInner":0,"paddingOuter":0,"range":[32.13,509.53],"round":false},
"axis":{"values":["2022-11-01","2023-01-04","2023-03-01","2023-05-01","2023-07-03","2023-09-01"],"grid":true,"gridColor":"#c4c4c4","ticks":false,"domain":false,"title":null,"labelAngle":0,"labelFontSize":11,"labelColor":"#333","labelPadding":2,"labelExpr":"slice(datum.value,0,4) + '/' + toNumber(slice(datum.value,5,7))"}},
"y":{"field":"v","type":"quantitative","scale":{"domain":[0,10.18],"nice":false},"axis":{"orient":"right","values":[2,4,6,8],"labelExpr":"datum.value + 'M'","grid":true,"gridColor":"#c4c4c4","domain":false,"tickSize":8,"tickColor":"#888","labelFontSize":11,"labelColor":"#333","labelPadding":2,"title":null}},
"fill":{"datum":"vol","type":"nominal","scale":{"domain":["vol"],"range":["#555555"]},
"legend":{"title":"下段:","orient":"none","legendX":5.5,"legendY":299,"direction":"horizontal","titleOrient":"left","titleAnchor":"middle","titleBaseline":"middle","symbolType":"M-1,-0.11L1,-0.11L1,0.11L-1,0.11Z","symbolSize":729,"symbolStrokeWidth":0,"labelExpr":"'出来高 単位:(M株/口/枚)'","labelFontSize":10,"labelFont":"Noto Sans CJK JP","labelColor":"#333","titleFont":"Noto Sans CJK JP","titleFontSize":10,"titleFontWeight":"normal","titleColor":"#333","labelOffset":4,"titlePadding":5,"padding":0}}}},
{"width":588,"height":50,
"data":{"values":[{}]},
"mark":{"type":"text","text":" "},
"view":{"stroke":"#444","strokeWidth":1}}
],
"spacing":12,
"bounds":"flush",
"resolve":{"scale":{"stroke":"shared","fill":"shared"}},
"config":{"view":{"stroke":"#999"},"font":"Noto Sans","axis":{"labelFont":"Noto Sans"}}
}
